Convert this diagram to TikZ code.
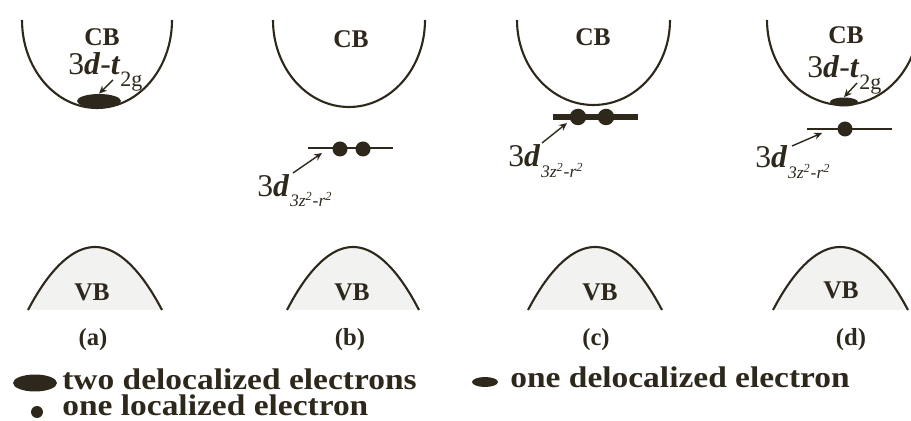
\documentclass[tikz,border=0pt]{standalone}
\usepackage{fontspec}
\setmainfont{Liberation Serif}
\newfontfamily\keyfont{Liberation Serif}[FakeStretch=1.12]
\usetikzlibrary{shapes.geometric, arrows.meta}
\definecolor{ink}{HTML}{2E281C}

\begin{document}
\begin{tikzpicture}[
  x=0.02cm, y=-0.02cm,
  band/.style={draw=ink, line width=1.2pt},
  vbtint/.style={fill=ink!6},
  level/.style={draw=ink, line width=1.2pt},
  dot/.style={circle, fill=ink, inner sep=0pt, minimum size=0.3cm},
  blob/.style={ellipse, fill=ink, inner sep=0pt},
  arrow/.style={-{Stealth[length=4.5pt,width=4pt]}, draw=ink, line width=0.8pt},
  bandname/.style={text=ink, font=\fontsize{14.5}{14.5}\selectfont\bfseries},
  panel/.style={text=ink, font=\fontsize{14}{14}\selectfont\bfseries},
  orbital/.style={text=ink, anchor=base west, inner sep=0pt, font=\fontsize{18}{18}\selectfont},
  sub/.style={text=ink, anchor=base west, inner sep=0pt, font=\fontsize{10}{10}\selectfont\itshape},
  legend/.style={text=ink, anchor=base west, inner sep=0pt, font=\keyfont\fontsize{17}{17}\selectfont\bfseries}
]
\useasboundingbox (0,0) rectangle (911,421);

% (a)
\draw[band] (22,20) arc[start angle=180, end angle=0, x radius=75, y radius=88];
\node[bandname] (cbA) at (102,37) {CB};
\node[orbital] (tA) at (68,75) {3\textbf{\textit{d}}-\textbf{\textit{t}}\raisebox{-6.8pt}{\fontsize{12.5}{12.5}\selectfont 2g}};
\node[blob, minimum width=0.88cm, minimum height=0.28cm] (blobA) at (99,101) {};
\coordinate (tailA) at (113,80);
\draw[arrow] (tailA) -- (blobA.north);
\fill[vbtint] (28,310) parabola bend (95,247) (162,310) -- cycle;
\draw[band] (28,310) parabola bend (95,247) (162,310);
\node[bandname] (vbA) at (92,292) {VB};
\node[panel] (labA) at (93,340) {(a)};

% (b)
\draw[band] (273,20) arc[start angle=180, end angle=0, x radius=76, y radius=87];
\node[bandname] (cbB) at (351,39) {CB};
\coordinate (lvBl) at (308,148);
\coordinate (lvBr) at (393,148);
\draw[level] (lvBl) -- (lvBr);
\node[dot] (eB1) at (340,149) {};
\node[dot] (eB2) at (363,149) {};
\node[orbital] (dB) at (257,197) {3\textbf{\textit{d}}};
\node[sub] (sB) at (dB.base east) [yshift=-5.5pt] {3z\textsuperscript{2}-r\textsuperscript{2}};
\coordinate (tailB) at (293,173);
\coordinate (headB) at (322,153);
\draw[arrow] (tailB) -- (headB);
\fill[vbtint] (287,310) parabola bend (353,247) (419,310) -- cycle;
\draw[band] (287,310) parabola bend (353,247) (419,310);
\node[bandname] (vbB) at (352,292) {VB};
\node[panel] (labB) at (350,340) {(b)};

% (c)
\draw[band] (517,20) arc[start angle=180, end angle=0, x radius=76.5, y radius=85];
\node[bandname] (cbC) at (593,37) {CB};
\coordinate (lvCl) at (553,117);
\coordinate (lvCr) at (638,117);
\draw[level, line width=3pt] (lvCl) -- (lvCr);
\node[dot, minimum size=0.33cm] (eC1) at (578,117) {};
\node[dot, minimum size=0.33cm] (eC2) at (606,117) {};
\node[orbital] (dC) at (508,167) {3\textbf{\textit{d}}};
\node[sub] (sC) at (dC.base east) [yshift=-6pt] {3z\textsuperscript{2}-r\textsuperscript{2}};
\coordinate (tailC) at (542,143);
\coordinate (headC) at (567,123);
\draw[arrow] (tailC) -- (headC);
\fill[vbtint] (528,310) parabola bend (595,247) (662,310) -- cycle;
\draw[band] (528,310) parabola bend (595,247) (662,310);
\node[bandname] (vbC) at (600,292) {VB};
\node[panel] (labC) at (596,340) {(c)};

% (d)
\draw[band] (767,20) arc[start angle=180, end angle=25, x radius=76, y radius=85];
\node[bandname] (cbD) at (846,35) {CB};
\node[orbital] (tD) at (807,78) {3\textbf{\textit{d}}-\textbf{\textit{t}}\raisebox{-6.8pt}{\fontsize{12.5}{12.5}\selectfont 2g}};
\node[blob, minimum width=0.56cm, minimum height=0.18cm] (blobD) at (844,102) {};
\coordinate (tailD) at (857,83);
\draw[arrow] (tailD) -- (blobD.north);
\coordinate (lvDl) at (807,129);
\coordinate (lvDr) at (892,129);
\draw[level] (lvDl) -- (lvDr);
\node[dot] (eD1) at (845,129) {};
\node[orbital] (dD) at (755,168) {3\textbf{\textit{d}}};
\node[sub] (sD) at (dD.base east) [yshift=-6pt] {3z\textsuperscript{2}-r\textsuperscript{2}};
\coordinate (tailD2) at (792,146);
\coordinate (headD2) at (822,133);
\draw[arrow] (tailD2) -- (headD2);
\fill[vbtint] (773,310) parabola bend (840,247) (908,310) -- cycle;
\draw[band] (773,310) parabola bend (840,247) (908,310);
\node[bandname] (vbD) at (841,290) {VB};
\node[panel] (labD) at (851,340) {(d)};

% key
\node[blob, minimum width=0.88cm, minimum height=0.34cm] (keyTwo) at (35,383) {};
\node[legend] (keyTwoText) at (62,390) {two delocalized electrons};
\node[dot, minimum size=0.24cm] (keyOne) at (37,412) {};
\node[legend] (keyOneText) at (62,416) {one localized electron};
\node[blob, minimum width=0.52cm, minimum height=0.2cm] (keyHalf) at (485,382) {};
\node[legend] (keyHalfText) at (510,388) {one delocalized electron};

\end{tikzpicture}
\end{document}
